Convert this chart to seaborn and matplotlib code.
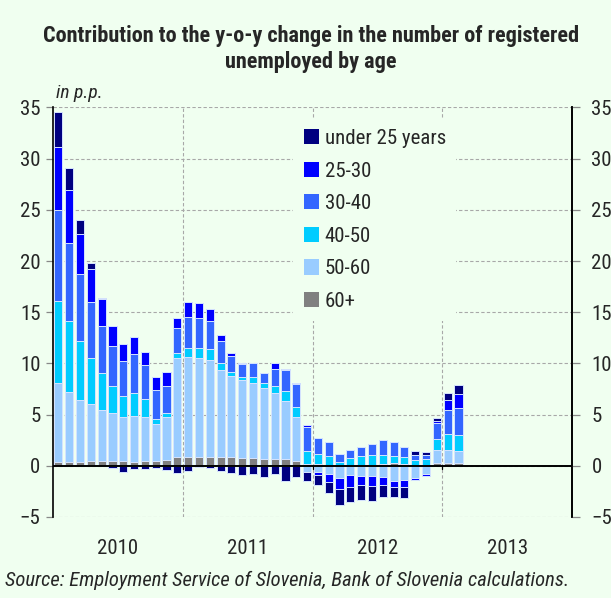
import numpy as np
import pandas as pd
import matplotlib
matplotlib.use("Agg")
import matplotlib.pyplot as plt
import matplotlib.transforms as mtransforms
from matplotlib import font_manager
from matplotlib.patches import Patch
import seaborn as sns

# ---------------- data (contributions in p.p., Jan 2010 - Feb 2013) ----------------
months = pd.date_range("2010-01-01", "2013-02-01", freq="MS").strftime("%Y-%m").tolist()
years = ["2010", "2011", "2012", "2013"]

under25 = [3.5, 2.2, 1.4, 0.6, 0.1, -0.2, -0.65, -0.3, -0.3, -0.2, -0.45, -0.7,
           -0.55, -0.15, -0.2, -0.5, -0.7, -0.9, -0.8, -1.1, -0.8, -1.5, -1.05, -0.8,
           -0.97, -1.14, -1.53, -1.52, -1.47, -1.4, -1.2, -1.0, -1.05, 0.33, 0.3, 0.26,
           0.72, 0.84]
age25_30 = [6.15, 5.1, 3.9, 3.2, 2.6, 2.0, 1.7, 1.7, 1.3, 1.3, 1.4, 0.9,
            1.45, 1.5, 1.2, 0.65, 0.35, 0.1, 0.0, 0.0, 0.55, 0.15, 0.1, 0.2,
            -0.28, -0.78, -1.07, -1.14, -0.91, -0.96, -0.75, -0.59, -0.74, -0.17, -0.13, 0.26,
            0.91, 1.37]
age30_40 = [8.85, 7.7, 6.5, 5.5, 4.6, 3.9, 3.4, 3.8, 3.3, 2.8, 2.6, 2.5,
            3.05, 2.9, 2.7, 2.15, 1.5, 1.2, 1.3, 1.0, 1.65, 2.05, 2.25, 2.35,
            1.56, 1.36, 0.78, 0.78, 0.88, 1.06, 1.49, 1.33, 0.95, 0.55, 0.43, 1.5,
            2.37, 2.6]
age40_50 = [8.04, 6.9, 5.8, 4.5, 3.6, 2.6, 2.0, 2.2, 1.75, 0.5, 0.4, 0.5,
            0.9, 1.0, 1.1, 0.65, 0.4, 0.3, 0.6, 0.5, 0.65, 1.0, 0.95, 1.2,
            0.99, 0.84, 0.34, 0.7, 0.89, 0.99, 0.89, 0.72, 0.7, 0.52, 0.62, 1.07,
            1.59, 1.62]
age50_60 = [7.66, 6.8, 6.0, 5.5, 5.0, 4.7, 4.3, 4.5, 4.25, 3.6, 4.2, 9.6,
            9.7, 9.6, 9.4, 8.45, 7.9, 7.6, 7.3, 6.9, 6.45, 5.6, 4.3, -0.65,
            -0.6, -0.78, -1.2, -0.91, -0.97, -1.04, -1.1, -1.46, -1.36, -1.17, -0.82, 1.36,
            1.24, 1.14]
age60plus = [0.4, 0.4, 0.4, 0.5, 0.5, 0.5, 0.5, 0.4, 0.5, 0.5, 0.6, 0.9,
             0.9, 0.9, 0.9, 0.9, 0.9, 0.8, 0.8, 0.7, 0.7, 0.7, 0.5, 0.2,
             0.15, 0.1, 0.05, 0.05, 0.05, 0.05, 0.15, 0.25, 0.15, 0.0, 0.0, 0.23,
             0.29, 0.29]

labels = ["under 25 years", "25-30", "30-40", "40-50", "50-60", "60+"]
colors = ["#000080", "#0000FF", "#3366FF", "#00CCFF", "#99CCFF", "#808080"]

# ---------------- fonts ----------------
sns.set_style("white")
names = {f.name for f in font_manager.fontManager.ttflist}
narrow = None
for cand in ["Liberation Sans Narrow", "Arial Narrow", "Roboto Condensed",
             "Open Sans Condensed", "Noto Sans Condensed", "DejaVu Sans Condensed"]:
    if cand in names:
        narrow = cand
        break
if narrow is None:
    for n in sorted(names):
        if "Narrow" in n or "Condensed" in n:
            narrow = n
            break
if narrow is not None:
    family = [narrow, "DejaVu Sans"]
    sc = 1.0
else:
    family = ["Liberation Sans", "DejaVu Sans"]
    sc = 0.87
plt.rcParams["font.family"] = family
tick_fs = 15 if narrow else 13.5

BG = "#F0FFF0"
fig = plt.figure(figsize=(6.11, 5.98), dpi=100, facecolor=BG)
ax = fig.add_axes([53 / 611, 81 / 598, 519 / 611, 409.5 / 598])
ax.set_facecolor(BG)

df = pd.DataFrame({"month": months, "under 25 years": under25, "25-30": age25_30,
                   "30-40": age30_40, "40-50": age40_50, "50-60": age50_60, "60+": age60plus})
df["pos"] = np.arange(len(df))

# stacking order from the zero line outward: 60+, 50-60, 40-50, 30-40, 25-30, under 25
stack_order = ["60+", "50-60", "40-50", "30-40", "25-30", "under 25 years"]
col_of = dict(zip(labels, colors))
vals = df[stack_order].to_numpy()
pos_cum = np.cumsum(np.clip(vals, 0, None), axis=1)
neg_cum = np.cumsum(np.clip(vals, None, 0), axis=1)

for k in range(len(stack_order) - 1, -1, -1):
    name = stack_order[k]
    for cum in (pos_cum, neg_cum):
        sns.barplot(x=df["pos"], y=cum[:, k], native_scale=True, color=col_of[name],
                    saturation=1, width=0.75, edgecolor="#d6e4ff", linewidth=0.7,
                    errorbar=None, ax=ax, zorder=3)

# ---------------- axes styling ----------------
ax.set_xlim(-0.5, 47.5)
ax.set_ylim(-5, 35)
ax.set_xlabel("")
ax.set_ylabel("")
ax.set_yticks(np.arange(-5, 36, 5))
ax.set_xticks([11.5, 23.5, 35.5])
ax.set_xticklabels([])
ax.grid(True, axis="both", color="#a8a8a8", linestyle=(0, (3, 2)), linewidth=0.8, zorder=0)
ax.set_axisbelow(True)
for s in ("top", "bottom"):
    ax.spines[s].set_visible(False)
for s in ("left", "right"):
    ax.spines[s].set_color("black")
    ax.spines[s].set_linewidth(1.2)
ax.axhline(0, color="black", linewidth=1.4, zorder=4)
ax.tick_params(axis="x", length=0)
ax.tick_params(axis="y", direction="out", length=5, width=0.9, color="#888888",
               labelsize=tick_fs, pad=4, left=True, right=False)
for xb in [11.5, 23.5, 35.5]:
    ax.plot([xb, xb], [0, -0.35], color="black", linewidth=0.9, zorder=4, clip_on=False)

ax2 = ax.twinx()
ax2.set_ylim(-5, 35)
ax2.set_yticks(np.arange(-5, 36, 5))
ax2.tick_params(axis="y", direction="out", length=6, width=0.9, color="#888888",
                labelsize=tick_fs, pad=8)
for s in ("top", "bottom", "left"):
    ax2.spines[s].set_visible(False)
ax2.spines["right"].set_color("black")
ax2.spines["right"].set_linewidth(1.2)
ax2.grid(False)

trans = mtransforms.blended_transform_factory(ax.transData, ax.transAxes)
for i, yr in enumerate(years):
    ax.text(5.5 + 12 * i, -0.077, yr, transform=trans, ha="center", va="center",
            fontsize=tick_fs)

handles = [Patch(facecolor=c, edgecolor="none") for c in colors]
leg = ax.legend(handles, labels, loc="upper left", bbox_to_anchor=(0.463, 0.973),
                frameon=True, facecolor=BG, edgecolor="none", framealpha=1,
                fontsize=tick_fs, handlelength=0.75, handleheight=0.75, handletextpad=0.25,
                labelspacing=0.65, borderpad=0.5, borderaxespad=0)
leg.set_zorder(5)

fig.text(311 / 611, 1 - 49 / 598,
         "Contribution to the y-o-y change in the number of registered\nunemployed by age",
         ha="center", va="center", fontsize=16 * sc, fontweight="bold", linespacing=1.2)
fig.text(56 / 611, 1 - 93 / 598, "in p.p.", ha="left", va="center", fontsize=14 * sc,
         style="italic")
fig.text(5 / 611, 1 - 580 / 598,
         "Source: Employment Service of Slovenia, Bank of Slovenia calculations.",
         ha="left", va="center", fontsize=14.9 * sc, style="italic")

fig.savefig("out.png", dpi=100, facecolor=BG)
